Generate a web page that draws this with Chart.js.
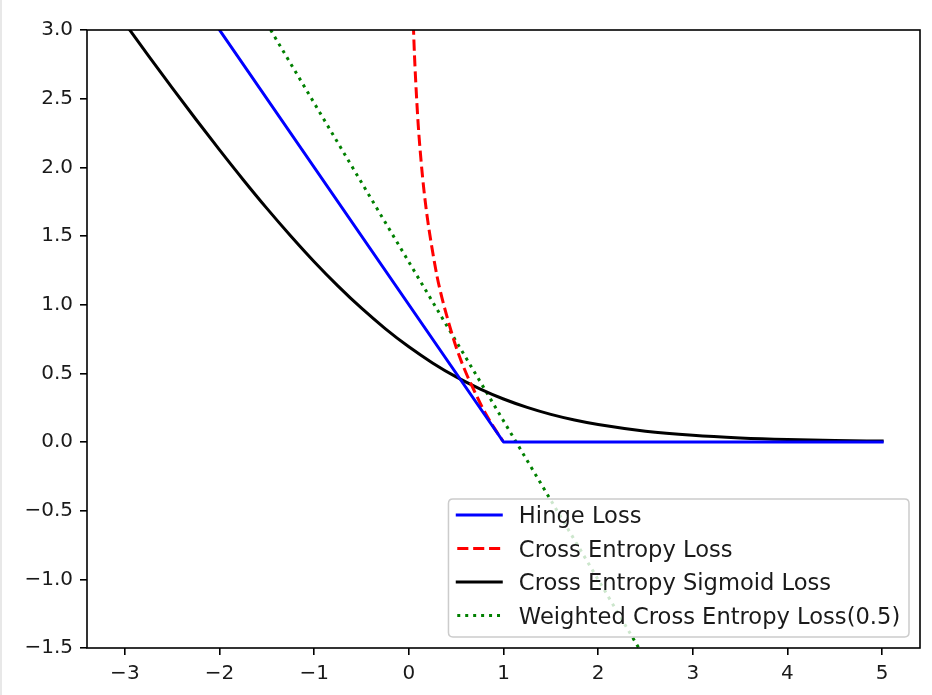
<!DOCTYPE html>
<html>
<head>
<meta charset="utf-8">
<script src="https://cdn.jsdelivr.net/npm/chart.js@4.4.1/dist/chart.umd.min.js"></script>
<style>
  html, body { margin: 0; padding: 0; background: #ffffff; }
  #wrap { width: 932px; height: 695px; }
</style>
</head>
<body>
<div id="wrap"><canvas id="c" width="932" height="695"></canvas></div>
<script>
// ---- data ----
const seriesLabels = ['Hinge Loss', 'Cross Entropy Loss', 'Cross Entropy Sigmoid Loss', 'Weighted Cross Entropy Loss(0.5)'];

const hingeX = [-2.0, 1.0, 5.0];
const hingeY = [3.0, 0.0, 0.0];

const xentX = [0.03, 0.046, 0.06, 0.08, 0.10, 0.13, 0.16, 0.20, 0.25, 0.30, 0.35, 0.40, 0.50, 0.60, 0.70, 0.80, 0.90, 0.992];
const xentY = [3.51, 3.08, 2.81, 2.53, 2.30, 2.04, 1.83, 1.61, 1.39, 1.20, 1.05, 0.92, 0.69, 0.51, 0.36, 0.22, 0.105, 0.008];

const sigX = [-3.0, -2.75, -2.5, -2.25, -2.0, -1.75, -1.5, -1.25, -1.0, -0.75, -0.5, -0.25, 0.0, 0.25, 0.5, 0.75, 1.0, 1.25, 1.5, 1.75, 2.0, 2.5, 3.0, 3.5, 4.0, 4.5, 5.0];
const sigY = [3.049, 2.812, 2.579, 2.350, 2.127, 1.910, 1.701, 1.502, 1.313, 1.137, 0.974, 0.826, 0.693, 0.576, 0.474, 0.387, 0.313, 0.252, 0.201, 0.160, 0.127, 0.079, 0.049, 0.030, 0.018, 0.011, 0.007];

const weightedX = [-1.46, 2.43];
const weightedY = [3.0, -1.5];

const xTicks = [-3, -2, -1, 0, 1, 2, 3, 4, 5];
const xTickLabels = ['\u22123', '\u22122', '\u22121', '0', '1', '2', '3', '4', '5'];
const yTicks = [-1.5, -1.0, -0.5, 0.0, 0.5, 1.0, 1.5, 2.0, 2.5, 3.0];
const yTickLabels = ['\u22121.5', '\u22121.0', '\u22120.5', '0.0', '0.5', '1.0', '1.5', '2.0', '2.5', '3.0'];

const xMin = -3.4, xMax = 5.4;
const yMin = -1.5, yMax = 3.0;

// ---- build ----
function pts(xs, ys) { return xs.map((x, i) => ({ x: x, y: ys[i] })); }

const FONT = '"DejaVu Sans", "Liberation Sans", sans-serif';

const frameAndLegend = {
  id: 'frameAndLegend',
  beforeDraw(chart) {
    const ctx = chart.ctx;
    ctx.save();
    ctx.fillStyle = '#ffffff';
    ctx.fillRect(0, 0, chart.width, chart.height);
    ctx.fillStyle = '#e8e8e8';
    ctx.fillRect(0, 0, 2, chart.height);
    ctx.restore();
  },
  afterDatasetsDraw(chart) {
    const ctx = chart.ctx, ca = chart.chartArea;
    ctx.save();
    ctx.strokeStyle = '#000000';
    ctx.lineWidth = 1.6;
    ctx.strokeRect(ca.left, ca.top, ca.right - ca.left, ca.bottom - ca.top);
    ctx.restore();
  },
  afterDraw(chart) {
    const ctx = chart.ctx, ca = chart.chartArea;
    const fs = 22;
    const tfs = 22.6;
    ctx.save();
    ctx.font = tfs + 'px ' + FONT;
    const ds = chart.data.datasets;
    let tw = 0;
    ds.forEach(d => { tw = Math.max(tw, ctx.measureText(d.label).width); });
    const pad = 0.4 * fs, hl = 2 * fs, hp = 0.8 * fs, axp = 0.5 * fs;
    const w = pad * 2 + hl + hp + tw;
    const h = 138;
    const right = ca.right - axp, bottom = ca.bottom - axp;
    const left = right - w, top = bottom - h;
    // frame
    const r = 0.2 * fs;
    ctx.beginPath();
    ctx.moveTo(left + r, top);
    ctx.lineTo(right - r, top);
    ctx.quadraticCurveTo(right, top, right, top + r);
    ctx.lineTo(right, bottom - r);
    ctx.quadraticCurveTo(right, bottom, right - r, bottom);
    ctx.lineTo(left + r, bottom);
    ctx.quadraticCurveTo(left, bottom, left, bottom - r);
    ctx.lineTo(left, top + r);
    ctx.quadraticCurveTo(left, top, left + r, top);
    ctx.closePath();
    ctx.fillStyle = 'rgba(255,255,255,0.8)';
    ctx.fill();
    ctx.strokeStyle = '#cccccc';
    ctx.lineWidth = 1.5;
    ctx.stroke();
    // entries
    ds.forEach((d, i) => {
      const cy = top + 16 + i * 33.5;
      const x0 = left + pad;
      ctx.beginPath();
      ctx.strokeStyle = d.borderColor;
      ctx.lineWidth = d.borderWidth;
      ctx.setLineDash(d.borderDash || []);
      ctx.lineCap = d.borderCapStyle || 'butt';
      ctx.moveTo(x0, cy);
      ctx.lineTo(x0 + hl, cy);
      ctx.stroke();
      ctx.setLineDash([]);
      ctx.fillStyle = '#1a1a1a';
      ctx.textBaseline = 'alphabetic';
      ctx.textAlign = 'left';
      ctx.fillText(d.label, x0 + hl + hp, cy + 8);
    });
    ctx.restore();
  }
};

const common = { pointRadius: 0, pointHoverRadius: 0, fill: false, clip: 0, borderJoinStyle: 'round' };

new Chart(document.getElementById('c'), {
  type: 'line',
  data: {
    datasets: [
      Object.assign({ label: seriesLabels[0], data: pts(hingeX, hingeY), borderColor: '#0000ff', borderWidth: 3, tension: 0, borderCapStyle: 'square' }, common),
      Object.assign({ label: seriesLabels[1], data: pts(xentX, xentY), borderColor: '#ff0000', borderWidth: 3, borderDash: [11.1, 4.8], cubicInterpolationMode: 'monotone', borderCapStyle: 'butt' }, common),
      Object.assign({ label: seriesLabels[2], data: pts(sigX, sigY), borderColor: '#000000', borderWidth: 3, cubicInterpolationMode: 'monotone', borderCapStyle: 'square' }, common),
      Object.assign({ label: seriesLabels[3], data: pts(weightedX, weightedY), borderColor: '#008000', borderWidth: 3, borderDash: [3, 4.95], tension: 0, borderCapStyle: 'butt' }, common)
    ]
  },
  options: {
    responsive: false,
    animation: false,
    events: [],
    layout: { padding: { top: 30, right: 12, left: 0, bottom: 0 } },
    plugins: { legend: { display: false }, tooltip: { enabled: false }, title: { display: false } },
    scales: {
      x: {
        type: 'linear', min: xMin, max: xMax,
        afterBuildTicks: s => { s.ticks = xTicks.map(v => ({ value: v })); },
        afterFit: s => { s.height = 47; },
        border: { display: false },
        grid: { display: true, drawOnChartArea: false, drawTicks: true, tickLength: 7, color: '#000000', lineWidth: 1.6 },
        ticks: {
          autoSkip: false, maxRotation: 0, padding: 7, color: '#1a1a1a',
          font: { family: FONT, size: 20 },
          callback: (v) => { const i = xTicks.indexOf(v); return i >= 0 ? xTickLabels[i] : ''; }
        }
      },
      y: {
        type: 'linear', min: yMin, max: yMax,
        afterBuildTicks: s => { s.ticks = yTicks.map(v => ({ value: v })); },
        afterFit: s => { s.width = 87; },
        border: { display: false },
        grid: { display: true, drawOnChartArea: false, drawTicks: true, tickLength: 7, color: '#000000', lineWidth: 1.6 },
        ticks: {
          autoSkip: false, padding: 7, color: '#1a1a1a',
          font: { family: FONT, size: 20 },
          callback: (v) => { const i = yTicks.findIndex(t => Math.abs(t - v) < 1e-9); return i >= 0 ? yTickLabels[i] : ''; }
        }
      }
    }
  },
  plugins: [frameAndLegend]
});
</script>
</body>
</html>
